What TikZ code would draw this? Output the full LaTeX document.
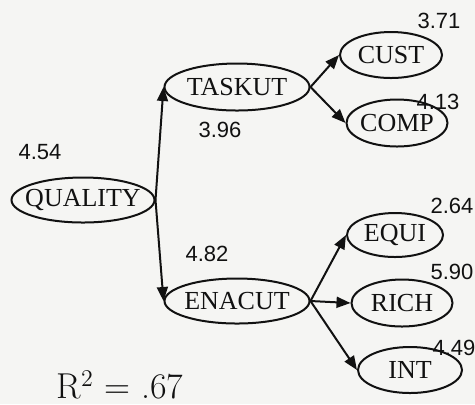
\documentclass[tikz,border=0pt]{standalone}
\usepackage{fontspec}
\newfontfamily\numfont{Liberation Sans}
\newfontfamily\labelfont{Liberation Serif}
\usetikzlibrary{positioning, shapes.geometric, arrows.meta}
\definecolor{paper}{HTML}{F5F5F3}
\definecolor{ink}{HTML}{111111}

\begin{document}
\begin{tikzpicture}[
    x=0.5pt, y=-0.5pt,
    >=Triangle,
    % Styles
    construct/.style={
        ellipse,
        draw=ink,
        line width=1pt,
        inner xsep=-4pt,
        inner ysep=0pt,
        minimum width=50pt,
        minimum height=23pt,
        font=\labelfont\fontsize{13}{15}\selectfont,
        text=ink
    },
    loading/.style={
        font=\numfont\fontsize{11}{13}\selectfont,
        text=ink,
        inner sep=0pt
    },
    arrow/.style={
        -{Triangle[length=7pt, width=5.5pt]},
        draw=ink,
        line width=1pt
    }
]

    % ================= CANVAS =================
    \fill[paper] (0,0) rectangle (475,404);
    \useasboundingbox (0,0) rectangle (475,404);

    % ================= LATENT CONSTRUCTS =================
    \node[construct, minimum width=71.5pt, minimum height=22.5pt] (quality) at (83,200) {QUALITY};
    \node[construct, minimum width=72.5pt, minimum height=23.5pt] (taskut) at (237,87) {TASKUT};
    \node[construct, minimum width=72.5pt, minimum height=22.5pt] (enacut) at (237,301) {ENACUT};

    % ================= INDICATORS =================
    % TASKUT indicators
    \node[construct, minimum width=51pt] (cust) at (391,55) {CUST};
    \node[construct, minimum width=50.5pt, minimum height=23.5pt] (comp) at (397,123) {COMP};

    % ENACUT indicators
    \node[construct, minimum width=48pt, minimum height=22pt] (equi) at (395,235) {EQUI};
    \node[construct, minimum width=50.5pt, minimum height=23.5pt] (rich) at (402,303) {RICH};
    \node[construct, minimum width=52pt] (int) at (410,370) {INT};

    % ================= VALUES =================
    \node[loading] (vquality) at (40,152) {4.54};
    \node[loading] (vtaskut) at (220,130) {3.96};
    \node[loading] (venacut) at (207,254) {4.82};
    \node[loading] (vcust) at (439,21) {3.71};
    \node[loading] (vcomp) at (438,102) {4.13};
    \node[loading] (vequi) at (452,206) {2.64};
    \node[loading] (vrich) at (452,272) {5.90};
    \node[loading] (vint) at (454,348) {4.49};

    \node[font=\fontsize{18}{20}\selectfont, text=ink, inner sep=0pt] (rsq) at (120,385) {R$^2$ = .67};

    % ================= CONNECTIONS / ARROWS =================
    % From QUALITY to the two constructs
    \draw[arrow] (quality.east) -- (taskut.west);
    \draw[arrow] (quality.east) -- (enacut.west);

    % From constructs to indicators
    \draw[arrow] (taskut.east) -- (cust.west);
    \draw[arrow] (taskut.east) -- (comp.west);
    \draw[arrow] (enacut.east) -- (equi.west);
    \draw[arrow] (enacut.east) -- (rich.west);
    \draw[arrow] (enacut.east) -- (int.west);

\end{tikzpicture}
\end{document}
